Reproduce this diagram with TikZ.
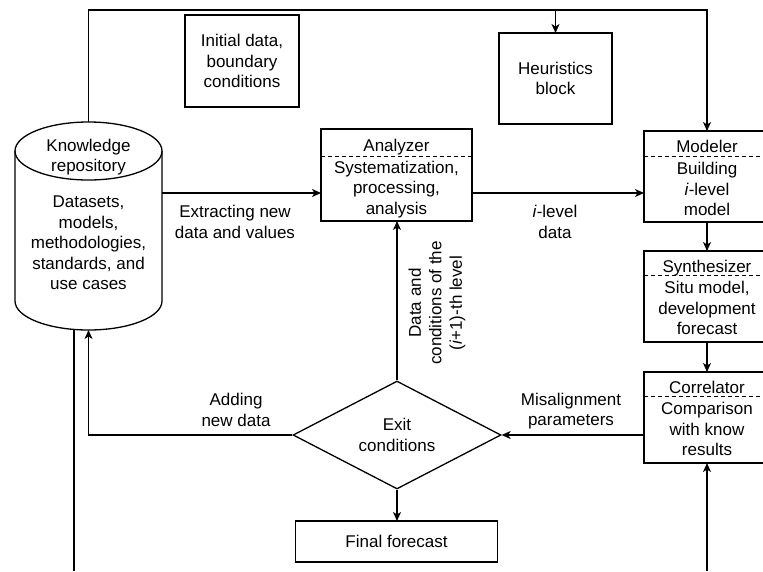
\documentclass[tikz,border=0pt]{standalone}
\usepackage{fontspec}
\setmainfont{Liberation Sans}
\usetikzlibrary{arrows.meta,positioning,shapes.geometric,calc}
\newcommand\figfont{\fontsize{17}{20.5}\selectfont}
\tikzset{
  ln/.style   ={line width=1.3pt},
  blk/.style  ={draw, line width=1.3pt, minimum width=113pt, minimum height=91pt, inner sep=0pt, outer sep=0pt},
  cell/.style ={draw, line width=1.3pt, minimum width=126pt, minimum height=91pt, inner sep=0pt, outer sep=0pt},
  hdr/.style  ={anchor=north, minimum height=25pt, inner sep=0pt, text height=18pt, text depth=0pt, align=center, font=\figfont},
  bdy/.style  ={anchor=north, minimum height=65pt, inner sep=0pt, align=center, font=\figfont},
  sep/.style  ={line width=1.1pt, dash pattern=on 4pt off 3pt},
  txt/.style  ={align=center, font=\figfont, inner sep=0pt},
  cond/.style ={diamond, draw, line width=1.3pt, minimum width=208pt, minimum height=108pt, inner sep=0pt, aspect=1.93},
  arr/.style  ={-{Stealth[length=9pt, width=8pt, inset=2.5pt]}, line width=1.3pt},
}
\begin{document}
\begin{tikzpicture}[x=1pt, y=-1pt]
  \path[use as bounding box, clip] (0,0) rectangle (763,571);

  % ---- knowledge repository (cylinder) ----
  \node[minimum width=147pt, minimum height=208pt, inner sep=0pt, outer sep=0pt] (repo) at (88.5,226) {};
  \draw[ln] ([yshift=-29pt]repo.north) ellipse [x radius=73.5pt, y radius=29pt];
  \draw[ln] ([yshift=-29pt]repo.north west) -- ([yshift=29pt]repo.south west)
    arc[start angle=180, end angle=360, x radius=73.5pt, y radius=29pt] -- ([yshift=-29pt]repo.north east);
  \node[txt] (repotitle) at ([yshift=-35pt]repo.north) {Knowledge\\repository};
  \node[txt] (repobody) at (88.5,243) {Datasets,\\models,\\methodologies,\\standards, and\\use cases};

  % ---- inputs from above ----
  \node[blk, txt, minimum width=114pt, minimum height=92pt] (init) at (242,61) {Initial data,\\boundary\\conditions};
  \node[blk, txt] (heur) at (555.5,78.5) {Heuristics\\block};

  % ---- analyzer ----
  \node[blk, minimum width=151pt, minimum height=92pt] (anl) at (396.5,175) {};
  \node[hdr, minimum height=27pt] (anlh) at (anl.north) {Analyzer};
  \draw[sep] (anlh.south -| anl.west) -- (anlh.south -| anl.east);
  \node[bdy] (anlb) at (anlh.south) {Systematization,\\processing,\\analysis};

  % ---- modeler / synthesizer / correlator column ----
  \node[cell] (mod) at (707,176.5) {};
  \node[hdr] (modh) at (mod.north) {Modeler};
  \draw[sep] (modh.south -| mod.west) -- (modh.south -| mod.east);
  \node[bdy] (modb) at (modh.south) {Building\\\textit{i}-level\\model};

  \node[cell, below=29pt of mod] (syn) {};
  \node[hdr, minimum height=24pt] (synh) at (syn.north) {Synthesizer};
  \draw[sep] (synh.south -| syn.west) -- (synh.south -| syn.east);
  \node[bdy] (synb) at (synh.south) {Situ model,\\development\\forecast};

  \node[cell, below=30pt of syn] (cor) {};
  \node[hdr, minimum height=24pt] (corh) at (cor.north) {Correlator};
  \draw[sep] (corh.south -| cor.west) -- (corh.south -| cor.east);
  \node[bdy] (corb) at (corh.south) {Comparison\\with know\\results};

  % ---- exit decision ----
  \node[cond, txt] (exit) at (397,435) {Exit\\conditions};
  \node[blk, txt, minimum width=202pt, minimum height=41pt] (final) at (396.5,541.5) {Final forecast};

  % ---- connectors ----
  \coordinate (ttop) at (88.5,10);
  \draw[arr] (repo.north) -- (ttop) -| (mod.north);
  \draw[arr] (heur.north |- ttop) -- (heur.north);
  \draw[arr] ([yshift=-18pt]anl.west -| repo.east) -- ([yshift=-18pt]anl.west);
  \draw[arr] ([yshift=-18pt]anl.east) -- ([yshift=-18pt]anl.east -| mod.west);
  \draw[arr] (mod) -- (syn);
  \draw[arr] (syn) -- (cor);
  \draw[arr] (exit.east -| cor.west) -- (exit.east);
  \draw[arr] (exit.north) -- (exit.north |- anl.south);
  \draw[arr] (exit.south) -- (exit.south |- final.north);
  \draw[arr] (exit.west) -| (repo.south);
  \coordinate (outl) at (74,571);
  \draw[ln] (repo.south -| outl) -- (outl);
  \coordinate (inr) at (707,571);
  \draw[arr] (inr) -- (cor.south);

  % ---- connector labels ----
  \node[txt] (lextr) at (235,222) {Extracting new\\data and values};
  \node[txt] (llev) at (555,222) {\textit{i}-level\\data};
  \node[txt] (ladd) at (236,410) {Adding\\new data};
  \node[txt] (lmis) at (571,411) {Misalignment\\parameters};
  \node[txt, rotate=90] (lnext) at (437,303) {Data and\\conditions of the\\(\textit{i}+1)-th level};
\end{tikzpicture}
\end{document}
